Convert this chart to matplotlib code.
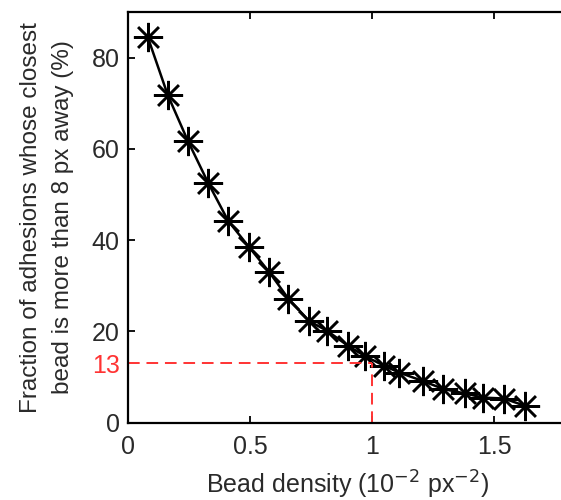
import matplotlib.pyplot as plt
import numpy as np

plt.rcParams['font.family'] = ['Liberation Sans', 'DejaVu Sans']

# bead density (10^-2 px^-2) and fraction (%)
density = [0.081, 0.163, 0.245, 0.329, 0.411, 0.496, 0.579, 0.657, 0.742, 0.817,
           0.903, 0.971, 1.049, 1.111, 1.210, 1.292, 1.381, 1.456, 1.541, 1.627]
fraction = [84.5, 71.8, 61.8, 52.5, 44.2, 38.5, 33.0, 27.2, 22.3, 20.1,
            16.8, 14.6, 12.5, 11.0, 9.1, 7.4, 6.4, 5.5, 5.3, 3.7]
ref_x = 1.0
ref_y = 13

fig = plt.figure(figsize=(5.61, 5.0), dpi=100)
ax = fig.add_axes([128 / 561, 0.1546, 1.8 * 244 / 561, 0.8214])

ax.plot(density, fraction, color='black', lw=1.8, marker=(8, 2, 0),
        ms=21, mew=1.8, mec='black')

red = '#ff3333'
ax.plot([0, ref_x], [ref_y, ref_y], color=red, ls=(0, (6, 3.5)), lw=1.4)
ax.plot([ref_x, ref_x], [0, ref_y], color=red, ls=(0, (6, 3.5)), lw=1.4)

ax.set_xlim(0, 1.8)
ax.set_ylim(0, 90)
ax.set_xticks([0, 0.5, 1, 1.5])
ax.set_xticklabels(['0', '0.5', '1', '1.5'])
ax.set_yticks([0, ref_y, 20, 40, 60, 80])
ax.set_yticklabels(['0', str(ref_y), '20', '40', '60', '80'])
ax.yaxis.get_major_ticks()[1].tick1line.set_visible(False)

ax.tick_params(direction='in', length=5, width=1.3, labelsize=18,
               top=True, right=False, colors='black', labelcolor='#2a2a2a', pad=6)
ax.tick_params(axis='x', pad=9)
ax.get_yticklabels()[1].set_color(red)
for s in ['left', 'bottom', 'top']:
    ax.spines[s].set_linewidth(1.6)
ax.spines['right'].set_visible(False)

ax.set_xlabel('Bead density (10$^{-2}$ px$^{-2}$)', fontsize=18, color='#2a2a2a', labelpad=7)
ax.set_ylabel('Fraction of adhesions whose closest\nbead is more than 8 px away (%)',
              fontsize=17.5, color='#2a2a2a', labelpad=13, linespacing=1.55)

plt.savefig('out.png', dpi=100)
